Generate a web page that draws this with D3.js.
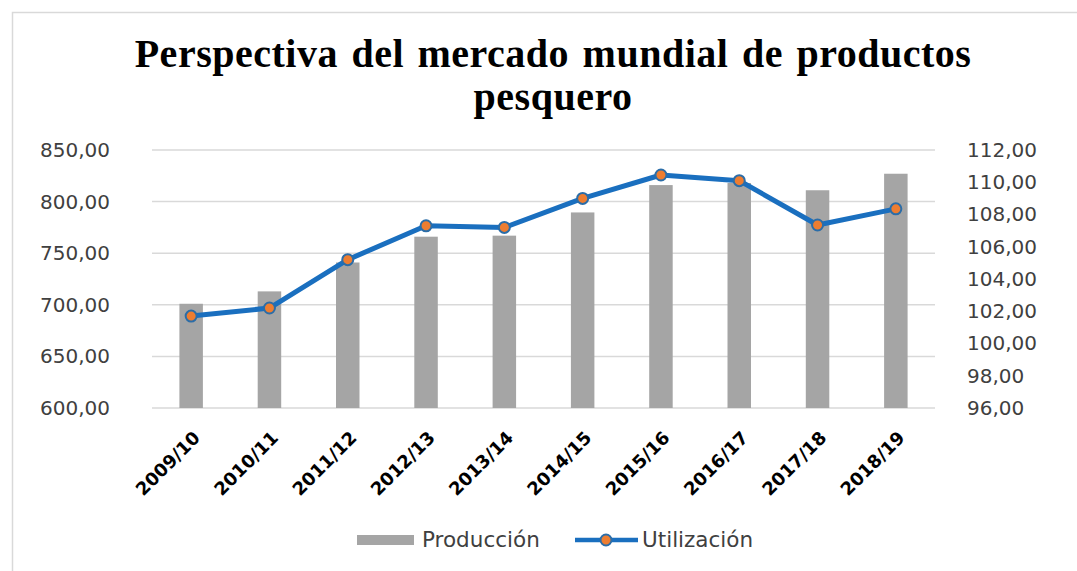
<!DOCTYPE html>
<html>
<head>
<meta charset="utf-8">
<script src="https://cdn.jsdelivr.net/npm/d3@7"></script>
<style>
  body { margin: 0; background: #fff; }
  svg { display: block; }
</style>
</head>
<body>
<div id="container"></div>
<script>
var w = 1077;
var h = 571;

// datos
var temporadas = ["2009/10", "2010/11", "2011/12", "2012/13", "2013/14", "2014/15", "2015/16", "2016/17", "2017/18", "2018/19"];
var produccion = [701, 713, 741, 766, 767, 789.5, 816, 818, 811, 827];
var utilizacion = [101.7, 102.2, 105.2, 107.3, 107.2, 109.0, 110.45, 110.1, 107.35, 108.35];
var ticksIzq = [600, 650, 700, 750, 800, 850];
var ticksDer = [96, 98, 100, 102, 104, 106, 108, 110, 112];
var titulo = ["Perspectiva del mercado mundial de productos", "pesquero"];

var es = d3.formatLocale({decimal: ",", thousands: ".", grouping: [3], currency: ["", "€"]});
var fmt = es.format(".2f");

var svg = d3.select("div#container").append("svg")
    .attr("width", w)
    .attr("height", h);

//Marco
svg.append("rect")
  .attr("x", 12.5)
  .attr("y", 12.5)
  .attr("width", 1100)
  .attr("height", 600)
  .style("fill", "#fff")
  .style("stroke", "#d9d9d9")
  .style("stroke-width", 1.5);

var x = d3.scaleBand()
    .domain(temporadas)
    .range([152, 935])
    .paddingInner(0.7)
    .paddingOuter(0.35);

var yIzq = d3.scaleLinear().domain([600, 850]).range([408, 150]);
var yDer = d3.scaleLinear().domain([96, 112]).range([408, 150]);

// grilla
svg.append("g").selectAll("line")
  .data(ticksIzq)
  .enter().append("line")
  .attr("x1", 152)
  .attr("x2", 935)
  .attr("y1", function(d) { return yIzq(d); })
  .attr("y2", function(d) { return yIzq(d); })
  .style("stroke", "#d9d9d9")
  .style("stroke-width", 1.5);

// ejes
var ejeIzq = svg.append("g")
  .attr("transform", "translate(122,0)")
  .call(d3.axisLeft(yIzq).tickValues(ticksIzq).tickSize(0).tickPadding(12).tickFormat(fmt));
var ejeDer = svg.append("g")
  .attr("transform", "translate(955,0)")
  .call(d3.axisRight(yDer).tickValues(ticksDer).tickSize(0).tickPadding(12).tickFormat(fmt));
[ejeIzq, ejeDer].forEach(function(g) {
  g.select(".domain").remove();
  g.selectAll("text")
    .attr("font-family", "'DejaVu Sans', sans-serif")
    .attr("font-size", 20)
    .attr("fill", "#404040");
});

// barras
svg.append("g").selectAll("rect")
  .data(produccion)
  .enter().append("rect")
  .attr("x", function(d, i) { return x(temporadas[i]); })
  .attr("width", x.bandwidth())
  .attr("y", function(d) { return yIzq(d); })
  .attr("height", function(d) { return yIzq(600) - yIzq(d); })
  .attr("fill", "#a5a5a5");

// linea
var cx = function(i) { return x(temporadas[i]) + x.bandwidth() / 2; };
var linea = d3.line()
  .x(function(d, i) { return cx(i); })
  .y(function(d) { return yDer(d); });

svg.append("path")
  .datum(utilizacion)
  .attr("d", linea)
  .attr("fill", "none")
  .attr("stroke", "#1a6fbf")
  .attr("stroke-width", 5)
  .attr("stroke-linejoin", "round");

svg.append("g").selectAll("circle")
  .data(utilizacion)
  .enter().append("circle")
  .attr("cx", function(d, i) { return cx(i); })
  .attr("cy", function(d) { return yDer(d); })
  .attr("r", 5.5)
  .attr("fill", "#ed7d31")
  .attr("stroke", "#2b6da8")
  .attr("stroke-width", 2);

// etiquetas eje x
svg.append("g").selectAll("text")
  .data(temporadas)
  .enter().append("text")
  .attr("transform", function(d) { return "translate(" + (x(d) + x.bandwidth() / 2 + 10) + ",439) rotate(-45)"; })
  .attr("text-anchor", "end")
  .attr("font-family", "'DejaVu Sans', sans-serif")
  .attr("font-weight", "bold")
  .attr("font-size", 18)
  .attr("fill", "#000")
  .text(function(d) { return d; });

// titulo
svg.append("g").selectAll("text")
  .data(titulo)
  .enter().append("text")
  .attr("x", 553)
  .attr("y", function(d, i) { return 67 + i * 43; })
  .attr("text-anchor", "middle")
  .attr("font-family", "'Liberation Serif', 'Times New Roman', serif")
  .attr("font-weight", "bold")
  .attr("font-size", 40)
  .attr("letter-spacing", 0.5)
  .attr("word-spacing", 3)
  .attr("fill", "#000")
  .text(function(d) { return d; });

// leyenda
var ley = svg.append("g");
ley.append("rect")
  .attr("x", 357).attr("y", 535)
  .attr("width", 57).attr("height", 10)
  .attr("fill", "#a5a5a5");
ley.append("text")
  .attr("x", 422).attr("y", 547)
  .attr("font-family", "'DejaVu Sans', sans-serif")
  .attr("font-size", 21.5)
  .attr("fill", "#404040")
  .text("Producción");
ley.append("line")
  .attr("x1", 575).attr("x2", 638)
  .attr("y1", 540).attr("y2", 540)
  .attr("stroke", "#1a6fbf")
  .attr("stroke-width", 4.5);
ley.append("circle")
  .attr("cx", 606).attr("cy", 540)
  .attr("r", 5.5)
  .attr("fill", "#ed7d31")
  .attr("stroke", "#2b6da8")
  .attr("stroke-width", 2);
ley.append("text")
  .attr("x", 642).attr("y", 547)
  .attr("font-family", "'DejaVu Sans', sans-serif")
  .attr("font-size", 21.5)
  .attr("fill", "#404040")
  .text("Utilización");
</script>
</body>
</html>
